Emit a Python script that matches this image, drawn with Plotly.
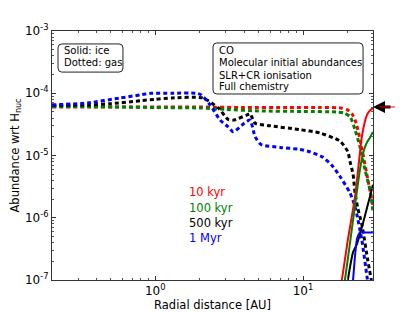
import plotly.graph_objects as go

# ---------------- data ----------------
# Gas phase (dotted)
red_gas_r = [0.2, 0.35, 0.6, 1.0, 2.0, 4.0, 8.0, 13.0, 18.0, 20.0, 21.5, 22.9, 25.0, 27.5, 29.7]
red_gas_y = [6.0e-5, 6.0e-5, 6.0e-5, 6.0e-5, 6.0e-5, 5.9e-5, 5.9e-5, 5.9e-5, 5.8e-5, 5.4e-5, 4.6e-5, 3.3e-5, 1.3e-5, 4.0e-6, 1.6e-6]

green_gas_r = [0.2, 0.35, 0.6, 1.0, 2.0, 3.0, 5.0, 10.0, 17.0, 19.0, 20.8, 22.5, 24.3, 26.2, 28.4, 29.7]
green_gas_y = [6.1e-5, 6.1e-5, 6.0e-5, 5.9e-5, 5.8e-5, 5.5e-5, 5.2e-5, 5.1e-5, 5.0e-5, 4.8e-5, 4.2e-5, 2.6e-5, 1.37e-5, 6.0e-6, 2.8e-6, 1.3e-6]

black_gas_r = [0.2, 0.35, 0.5, 0.8, 1.0, 1.3, 2.1, 2.67, 3.11, 3.37, 4.2, 4.38, 4.74, 6.0, 9.55, 13.0, 17.8, 20.1, 20.8, 21.8, 22.5, 23.5, 25.0, 27.5, 29.0]
black_gas_y = [6.4e-5, 6.5e-5, 6.8e-5, 7.6e-5, 8.0e-5, 8.4e-5, 8.4e-5, 5.8e-5, 3.8e-5, 3.7e-5, 4.5e-5, 4.7e-5, 3.3e-5, 3.0e-5, 2.6e-5, 2.3e-5, 1.7e-5, 1.15e-5, 8.0e-6, 5.0e-6, 2.5e-6, 1.4e-6, 7.8e-7, 2.0e-7, 1.0e-7]

blue_gas_r = [0.2, 0.35, 0.58, 0.79, 0.93, 1.3, 1.9, 2.05, 2.35, 2.75, 3.1, 3.37, 4.0, 4.38, 4.74, 5.2, 7.0, 9.55, 11.2, 13.5, 15.8, 17.8, 20.8, 22.5, 25.0, 27.1, 28.4]
blue_gas_y = [6.5e-5, 7.0e-5, 8.4e-5, 9.4e-5, 1.0e-4, 1.0e-4, 1.0e-4, 9.4e-5, 6.5e-5, 3.7e-5, 2.9e-5, 2.4e-5, 3.3e-5, 3.7e-5, 2.0e-5, 1.5e-5, 1.35e-5, 1.25e-5, 1.14e-5, 9.5e-6, 6.8e-6, 4.6e-6, 2.5e-6, 1.5e-6, 4.4e-7, 1.13e-7, 5.0e-8]

# Ice phase (solid)
red_ice_r = [17.5, 18.3, 20.1, 22.5, 25.0, 26.2, 27.1, 28.4, 29.7]
red_ice_y = [6.0e-8, 1.0e-7, 4.4e-7, 2.2e-6, 2.0e-5, 3.5e-5, 4.5e-5, 5.3e-5, 5.8e-5]

green_ice_r = [18.5, 19.2, 20.8, 22.5, 24.3, 25.5, 27.0, 28.4, 29.7]
green_ice_y = [6.0e-8, 1.0e-7, 4.0e-7, 1.6e-6, 6.0e-6, 1.1e-5, 1.6e-5, 1.95e-5, 2.4e-5]

black_ice_r = [19.5, 20.1, 21.8, 23.2, 24.3, 25.5, 27.0, 28.4, 29.7]
black_ice_y = [6.0e-8, 1.0e-7, 2.8e-7, 3.8e-7, 5.5e-7, 8.3e-7, 1.4e-6, 2.2e-6, 3.4e-6]

blue_ice_r = [21.3, 21.8, 22.5, 23.2, 24.3, 26.0, 29.7]
blue_ice_y = [6.0e-8, 1.0e-7, 2.5e-7, 4.6e-7, 5.8e-7, 5.8e-7, 5.8e-7]

series_names = ["10 kyr", "100 kyr", "500 kyr", "1 Myr"]
series_colors = ["#ff0000", "#008000", "#000000", "#0000ff"]

box1_lines = ["Solid: ice", "Dotted: gas"]
box2_lines = ["CO", "Molecular initial abundances", "SLR+CR ionisation", "Full chemistry"]

x_ticks = [1, 10]
x_ticktext = ["10<sup>0</sup>", "10<sup>1</sup>"]
y_ticks = [1e-7, 1e-6, 1e-5, 1e-4, 1e-3]
y_ticktext = ["10<sup>-7</sup>", "10<sup>-6</sup>", "10<sup>-5</sup>", "10<sup>-4</sup>", "10<sup>-3</sup>"]

FONT = "DejaVu Sans"

fig = go.Figure()

gas = [(red_gas_r, red_gas_y), (green_gas_r, green_gas_y), (black_gas_r, black_gas_y), (blue_gas_r, blue_gas_y)]
ice = [(red_ice_r, red_ice_y), (green_ice_r, green_ice_y), (black_ice_r, black_ice_y), (blue_ice_r, blue_ice_y)]

for (r, y), c in zip(gas, series_colors):
    fig.add_trace(go.Scatter(x=r, y=y, mode="lines",
                             line=dict(color=c, width=3, dash="4px,3px", shape="spline", smoothing=0.6),
                             showlegend=False, hoverinfo="skip"))
for (r, y), c in zip(ice, series_colors):
    fig.add_trace(go.Scatter(x=r, y=y, mode="lines",
                             line=dict(color=c, width=2, shape="spline", smoothing=0.6),
                             showlegend=False, hoverinfo="skip"))

axis_common = dict(
    type="log", showgrid=False, zeroline=False, showline=True, linecolor="#333", linewidth=1,
    mirror="allticks", ticks="inside", ticklen=4, tickcolor="#333", automargin=False,
    tickfont=dict(family=FONT, size=12, color="black"),
    minor=dict(ticks="inside", ticklen=2, tickcolor="#555", dtick="D1", showgrid=False),
)

fig.update_xaxes(**axis_common, range=[-0.699, 1.4735], tickvals=x_ticks, ticktext=x_ticktext,
                 title=dict(text="Radial distance [AU]", font=dict(family=FONT, size=11.5, color="black"), standoff=1))
fig.update_yaxes(**axis_common, range=[-7, -3], tickvals=y_ticks, ticktext=y_ticktext,
                 title=dict(text="Abundance wrt H<sub>nuc</sub>", font=dict(family=FONT, size=11.5, color="black"), standoff=3))

# Rounded text boxes (paper coords)
def rounded_box(x0, y0, x1, y1, rx=0.012, ry=0.016):
    return (f"M {x0+rx} {y0} L {x1-rx} {y0} Q {x1} {y0} {x1} {y0+ry} "
            f"L {x1} {y1-ry} Q {x1} {y1} {x1-rx} {y1} "
            f"L {x0+rx} {y1} Q {x0} {y1} {x0} {y1-ry} "
            f"L {x0} {y0+ry} Q {x0} {y0} {x0+rx} {y0} Z")

fig.add_shape(type="path", xref="paper", yref="paper", path=rounded_box(0.0187, 0.835, 0.221, 0.948),
              line=dict(color="#222", width=1), fillcolor="white", layer="above")
fig.add_shape(type="path", xref="paper", yref="paper", path=rounded_box(0.5016, 0.747, 0.969, 0.952),
              line=dict(color="#222", width=1), fillcolor="white", layer="above")

for txt, yy in zip(box1_lines, [0.9197, 0.8715]):
    fig.add_annotation(xref="paper", yref="paper", x=0.031, y=yy, xanchor="left", yanchor="middle",
                       text=txt, showarrow=False, font=dict(family=FONT, size=10, color="black"))
for txt, yy in zip(box2_lines, [0.9197, 0.8715, 0.823, 0.779]):
    fig.add_annotation(xref="paper", yref="paper", x=0.5125, y=yy, xanchor="left", yanchor="middle",
                       text=txt, showarrow=False, font=dict(family=FONT, size=10, color="black"))

label_y = [0.353, 0.289, 0.229, 0.169]
for name, c, yy in zip(series_names, series_colors, label_y):
    fig.add_annotation(xref="paper", yref="paper", x=0.42, y=yy, xanchor="left", yanchor="middle",
                       text=name, showarrow=False, font=dict(family=FONT, size=11.5, color=c))

# Arrow at right edge indicating initial abundance
fig.add_annotation(xref="paper", yref="y", x=1.0, y=-4.22, ax=19, ay=0, axref="pixel", ayref="pixel",
                   text="", showarrow=True, arrowhead=2, arrowsize=0.8, arrowwidth=3, arrowcolor="#000")
fig.add_annotation(xref="paper", yref="y", x=1.02, y=-4.22, ax=17, ay=0, axref="pixel", ayref="pixel",
                   text="", showarrow=True, arrowhead=0, arrowwidth=1, arrowcolor="#ff0000")

# The page body adds an 8px margin; size the figure so the plot area lands where it does in the reference.
fig.update_layout(
    width=407, height=304,
    margin=dict(l=44, r=42, t=23, b=32),
    paper_bgcolor="white", plot_bgcolor="white",
    font=dict(family=FONT, size=11, color="black"),
)

fig.write_html("out.html")
